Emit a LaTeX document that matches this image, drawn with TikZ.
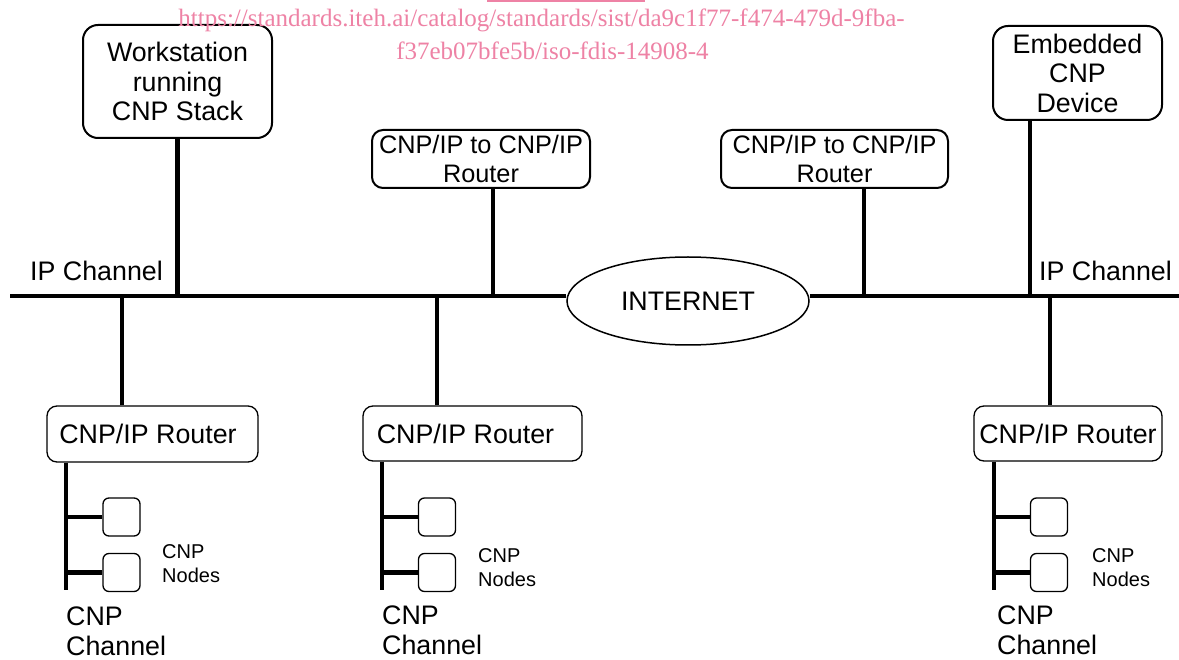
\documentclass[tikz,border=0pt]{standalone}
\usepackage{fontspec}
\setmainfont{Liberation Sans}
\newfontfamily\wmfamily{Liberation Serif}
\usetikzlibrary{shapes.geometric}
\definecolor{wmpink}{RGB}{238,130,165}
\newcommand\mainfnt{\fontsize{26.8}{29.5}\selectfont}
\newcommand\midfnt{\fontsize{25.3}{29.5}\selectfont}
\newcommand\smallfnt{\fontsize{20}{24}\selectfont}
\newcommand\wmfnt{\wmfamily\fontsize{25}{30}\selectfont}
\begin{document}
\begin{tikzpicture}[x=1pt,y=-1pt,
  wire/.style={line width=4.8pt},
  tbox/.style={draw, line width=2pt, rounded corners=11pt, inner sep=0pt, align=center, font=\mainfnt},
  rbox/.style={draw, line width=1.3pt, rounded corners=10pt, inner sep=0pt, align=center, font=\mainfnt},
  nbox/.style={draw, line width=1.3pt, rounded corners=6pt, minimum width=37pt, minimum height=38pt, inner sep=0pt},
  lbl/.style={inner sep=0pt, font=\mainfnt, align=left},
  slbl/.style={inner sep=0pt, font=\smallfnt, align=left},
  wm/.style={inner sep=0pt, font=\wmfnt, text=wmpink}]
\fill[white] (0,0) rectangle (1179,660);
\useasboundingbox (0,0) rectangle (1179,660);

% top devices
\node[tbox, minimum width=189pt, minimum height=113pt, rounded corners=15pt] (ws) at (177.5,81.5) {Workstation\\running\\CNP Stack};
\node[tbox, font=\midfnt, minimum width=218pt, minimum height=58pt] (r1) at (481,159) {CNP/IP to CNP/IP\\Router};
\node[tbox, font=\midfnt, minimum width=227pt, minimum height=58pt] (r2) at (834.5,159) {CNP/IP to CNP/IP\\Router};
\node[tbox, minimum width=169pt, minimum height=94pt, rounded corners=15pt] (emb) at (1077.5,73) {Embedded\\CNP\\Device};
\node[draw, ellipse, line width=1.5pt, minimum width=242pt, minimum height=88pt, inner sep=0pt, font=\mainfnt] (net) at (688,301) {INTERNET};

% IP channel
\coordinate (ipW) at (10,296);
\coordinate (ipE) at (1179,296);
\draw[wire] (ipW) -- (ipW -| net.west);
\draw[wire] (ipE -| net.east) -- (ipE);
\draw[wire] (ws.south) -- (ws.south |- ipW);
\draw[wire] ([xshift=12pt]r1.south) -- ([xshift=12pt]r1.south |- ipW);
\draw[wire] ([xshift=29.5pt]r2.south) -- ([xshift=29.5pt]r2.south |- ipW);
\draw[wire] ([xshift=-47.5pt]emb.south) -- ([xshift=-47.5pt]emb.south |- ipW);
\node[lbl, anchor=base west] (ipl) at (30,281) {IP Channel};
\node[lbl, anchor=base east] (ipr) at (1172,281) {IP Channel};

% routers
\node[rbox, minimum width=211pt, minimum height=56pt] (rl) at (152.5,434) {CNP/IP Router\hspace*{9pt}};
\node[rbox, minimum width=219pt, minimum height=55pt] (rm) at (472.5,433.5) {CNP/IP Router\hspace*{14pt}};
\node[rbox, minimum width=188pt, minimum height=55pt] (rr) at (1068,433.5) {CNP/IP Router};
\draw[wire] ([xshift=-30.5pt]rl.north) -- ([xshift=-30.5pt]rl.north |- ipW);
\draw[wire] ([xshift=-35.5pt]rm.north) -- ([xshift=-35.5pt]rm.north |- ipW);
\draw[wire] ([xshift=-18pt]rr.north) -- ([xshift=-18pt]rr.north |- ipW);

% CNP channels
\coordinate (chL) at (66,590);
\coordinate (chM) at (382,590);
\coordinate (chR) at (994,590);
\draw[wire] (chL |- rl.south) -- (chL);
\draw[wire] (chM |- rm.south) -- (chM);
\draw[wire] (chR |- rr.south) -- (chR);

\node[nbox] (l1) at (121.5,517) {};
\node[nbox] (l2) at (121.5,572.5) {};
\node[nbox] (m1) at (437,517) {};
\node[nbox] (m2) at (437,572.5) {};
\node[nbox] (q1) at (1049,517) {};
\node[nbox] (q2) at (1049,572.5) {};
\draw[wire] (l1.west -| chL) -- (l1.west);
\draw[wire] (l2.west -| chL) -- (l2.west);
\draw[wire] (m1.west -| chM) -- (m1.west);
\draw[wire] (m2.west -| chM) -- (m2.west);
\draw[wire] (q1.west -| chR) -- (q1.west);
\draw[wire] (q2.west -| chR) -- (q2.west);

\node[slbl, anchor=north west] (nl) at (162,544) {CNP\\Nodes};
\node[slbl, anchor=north west] (nm) at (478,548) {CNP\\Nodes};
\node[slbl, anchor=north west] (nr) at (1092,548) {CNP\\Nodes};

\node[lbl, anchor=north west] (cl) at (66,607) {CNP\\Channel};
\node[lbl, anchor=north west] (cm) at (382,606) {CNP\\Channel};
\node[lbl, anchor=north west] (cr) at (997,606) {CNP\\Channel};

% watermark
\draw[wmpink, line width=2pt] (487,1) -- (645,1);
\node[wm, anchor=base] (wm1) at (541.5,27) {https://standards.iteh.ai/catalog/standards/sist/da9c1f77-f474-479d-9fba-};
\node[wm, anchor=base] (wm2) at (552.5,60) {f37eb07bfe5b/iso-fdis-14908-4};
\end{tikzpicture}
\end{document}
